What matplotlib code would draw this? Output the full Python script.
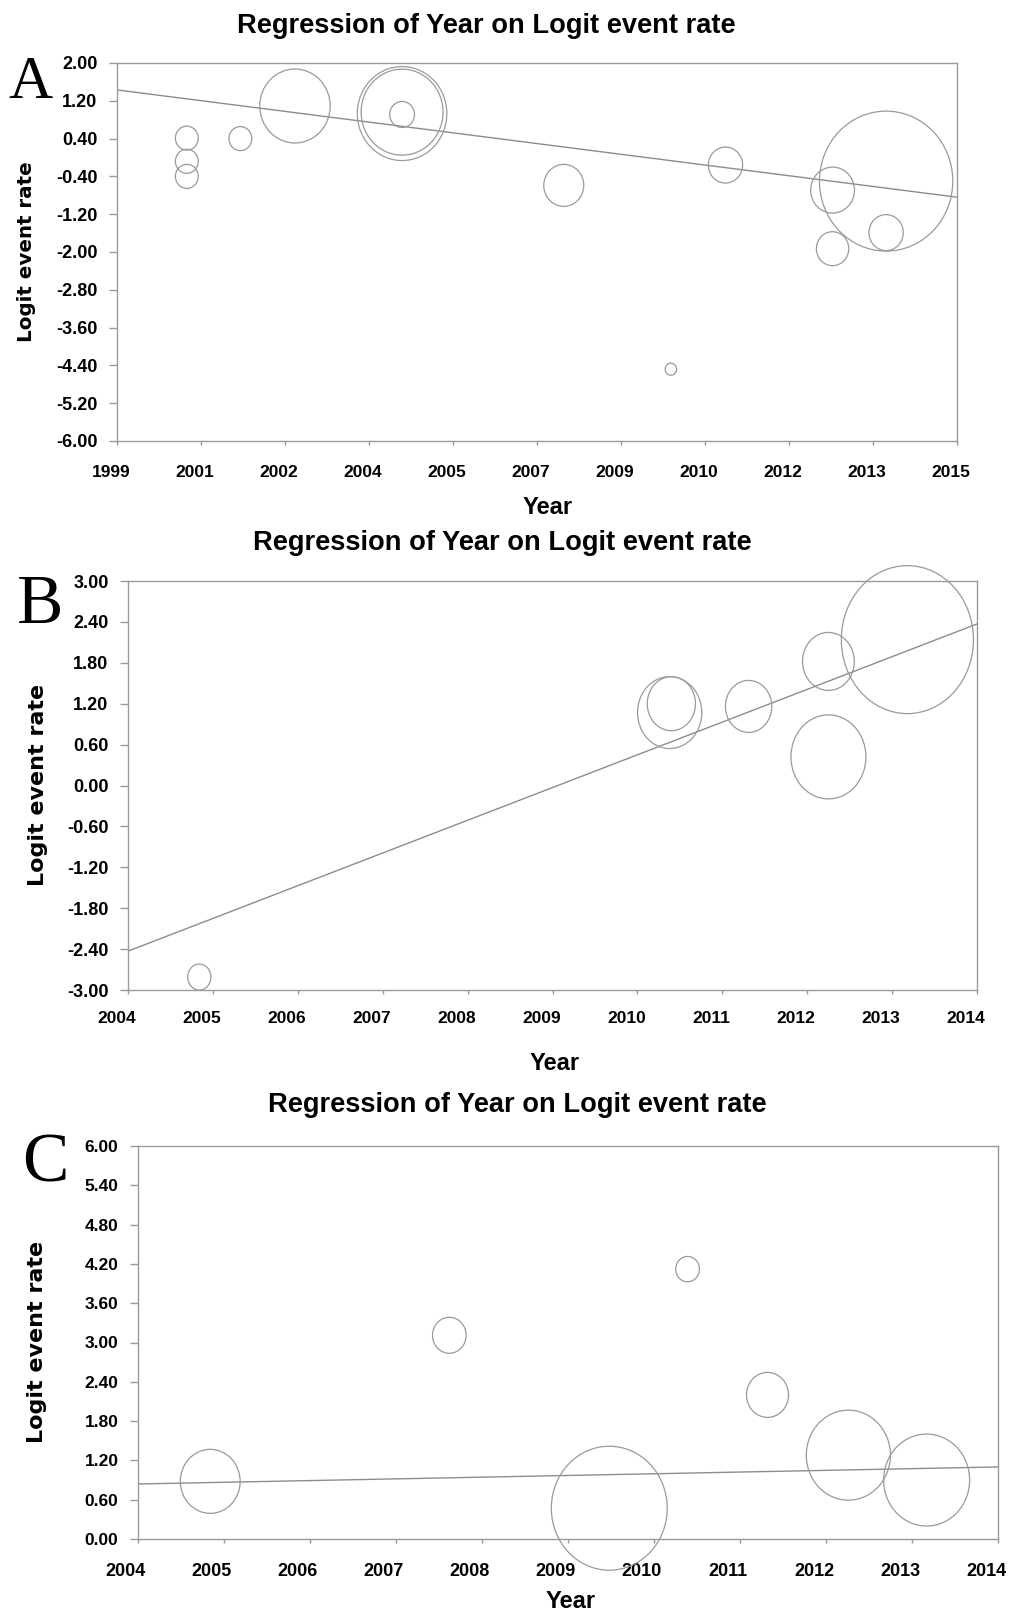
import matplotlib
matplotlib.use("Agg")
import matplotlib.pyplot as plt
from matplotlib.path import Path
from matplotlib.transforms import Affine2D, ScaledTranslation
import numpy as np

W, H, DPI = 1009, 1620, 100

# ---- Panel A: year vs logit event rate, bubble = study weight
a_years = [2000.33, 2000.33, 2000.33, 2001.35, 2002.39, 2004.43, 2004.43, 2004.43,
           2007.51, 2009.55, 2010.59, 2012.63, 2012.63, 2013.65, 2013.65]
a_logit = [0.41, -0.08, -0.40, 0.40, 1.09, 0.93, 0.96, 0.91,
           -0.59, -4.48, -0.16, -0.69, -1.93, -1.59, -0.50]
a_weight = [12, 12, 12, 12, 37, 47, 43, 13, 21, 6, 18, 23, 17, 18, 70]
a_fit = [1.43, -0.84]          # regression line at 1999 and 2015
a_xticks = np.linspace(1999, 2015, 11)
a_xlabels = ['1999', '2001', '2002', '2004', '2005', '2007', '2009', '2010', '2012', '2013', '2015']
a_yticks = np.linspace(-6.0, 2.0, 11)

# ---- Panel B
b_years = [2004.84, 2010.38, 2010.40, 2011.31, 2012.25, 2012.25, 2013.18]
b_logit = [-2.81, 1.07, 1.20, 1.16, 1.82, 0.42, 2.14]
b_weight = [13, 36, 27, 26, 29, 42, 74]
b_fit = [-2.43, 2.37]          # at 2004 and 2014
b_xticks = np.arange(2004, 2015)
b_xlabels = [str(y) for y in b_xticks]
b_yticks = np.linspace(-3.0, 3.0, 11)

# ---- Panel C
c_years = [2004.84, 2007.62, 2010.39, 2011.32, 2009.48, 2012.26, 2013.17]
c_logit = [0.88, 3.11, 4.12, 2.20, 0.47, 1.28, 0.90]
c_weight = [32, 18, 12.7, 22.5, 62, 45, 46]
c_fit = [0.84, 1.10]           # at 2004 and 2014
c_xticks = np.arange(2004, 2015)
c_xlabels = [str(y) for y in c_xticks]
c_yticks = np.linspace(0.0, 6.0, 11)

GREY = '#9a9a9a'
SANS = 'Liberation Sans'

fig = plt.figure(figsize=(W / DPI, H / DPI), dpi=DPI)


def px_axes(left, top, right, bottom):
    return fig.add_axes([left / W, 1 - bottom / H, (right - left) / W, (bottom - top) / H])


def ftext(px, py, s, **kw):
    fig.text(px / W, 1 - py / H, s, **kw)


def panel(box, years, logit, weight, stretch, xticks, xlabels, yticks, fit,
          xsize, ysize, xshift, xpad):
    ax = px_axes(*box)
    # bubbles are a bit taller than wide in the source figure
    marker = Path.unit_circle().transformed(Affine2D().scale(1.0, stretch))
    sizes = [(2 * r * 72 / DPI) ** 2 for r in weight]
    ax.scatter(years, logit, s=sizes, marker=marker, facecolors='none',
               edgecolors=GREY, linewidths=0.9, clip_on=False, zorder=3)
    ax.plot([xticks[0], xticks[-1]], fit, color='#8c8c8c', lw=1.0, zorder=2)
    ax.set_xlim(xticks[0], xticks[-1])
    ax.set_ylim(yticks[0], yticks[-1])
    ax.set_xticks(xticks)
    ax.set_xticklabels(xlabels, family=SANS, weight='bold', size=xsize)
    ax.set_yticks(yticks)
    ax.set_yticklabels(['%.2f' % v for v in yticks], family=SANS,
                       weight='bold', size=ysize)
    ax.tick_params(axis='y', direction='out', length=6, width=1, color=GREY, pad=8)
    ax.tick_params(axis='x', direction='out', length=3, width=1, color=GREY, pad=xpad)
    for sp in ax.spines.values():
        sp.set_color(GREY)
        sp.set_linewidth(1.0)
    off = ScaledTranslation(-xshift / DPI, 0, fig.dpi_scale_trans)
    for lbl in ax.get_xticklabels():
        lbl.set_transform(lbl.get_transform() + off)
    return ax


TITLE = 'Regression of Year on Logit event rate'

# A
panel((117, 63, 957, 441), a_years, a_logit, a_weight, 1.05, a_xticks, a_xlabels,
      a_yticks, a_fit, 12.5, 13, 6, 14)
ftext(486, 26, TITLE, family=SANS, weight='bold', size=19.6, ha='center', va='center')
ftext(548, 508, 'Year', family=SANS, weight='bold', size=17, ha='center', va='center')
ftext(27, 252, 'Logit event rate', family='DejaVu Sans', weight='bold', size=14.3,
      rotation=90, ha='center', va='center')
ftext(8, 98, 'A', family='Liberation Serif', size=44, ha='left', va='baseline')

# B
panel((128, 581, 977, 990), b_years, b_logit, b_weight, 1.12, b_xticks, b_xlabels,
      b_yticks, b_fit, 12.5, 13, 11, 12)
ftext(502, 543, TITLE, family=SANS, weight='bold', size=19.6, ha='center', va='center')
ftext(555, 1063, 'Year', family=SANS, weight='bold', size=17, ha='center', va='center')
ftext(38, 785, 'Logit event rate', family='DejaVu Sans', weight='bold', size=16,
      rotation=90, ha='center', va='center')
ftext(17, 623, 'B', family='Liberation Serif', size=50, ha='left', va='baseline')

# C
panel((138, 1146, 998, 1539), c_years, c_logit, c_weight, 1.07, c_xticks, c_xlabels,
      c_yticks, c_fit, 13, 12.5, 12, 14)
ftext(517, 1105, TITLE, family=SANS, weight='bold', size=19.6, ha='center', va='center')
ftext(571, 1601, 'Year', family=SANS, weight='bold', size=17, ha='center', va='center')
ftext(37, 1342, 'Logit event rate', family='DejaVu Sans', weight='bold', size=16,
      rotation=90, ha='center', va='center')
ftext(22, 1182, 'C', family='Liberation Serif', size=50, ha='left', va='baseline')

fig.savefig('out.png', dpi=DPI, facecolor='white')
